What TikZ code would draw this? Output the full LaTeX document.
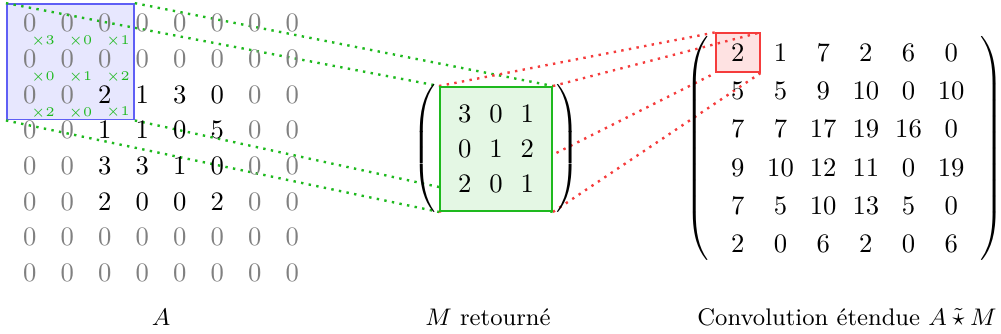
\documentclass[tikz,border=0pt]{standalone}
\usepackage{amsmath,amssymb}
\usetikzlibrary{matrix,fit,backgrounds,positioning}
\definecolor{winblue}{RGB}{95,95,245}
\definecolor{kergreen}{RGB}{30,185,30}
\definecolor{outred}{RGB}{245,60,60}
\newcommand{\gz}{\textcolor{gray}{0}}
\tikzset{
    % cells of the padded matrix, the kernel and the result
    acell/.style={minimum width=14.06pt,minimum height=13.3pt,inner sep=0pt},
    mcell/.style={minimum width=11.7pt,minimum height=13.1pt,inner sep=0pt},
    rcell/.style={minimum width=16pt,minimum height=14.25pt,inner sep=0pt},
    % small kernel weights under the window
    mult/.style={font=\tiny,text=kergreen,inner sep=0pt},
    winbox/.style={draw=winblue,fill=winblue!15,line width=0.6pt},
    outbox/.style={draw=outred,fill=outred!15,line width=0.6pt},
    caption/.style={font=\fontsize{9pt}{11pt}\selectfont},
}

\begin{document}
\begin{tikzpicture}[x=0.375pt,y=-0.375pt,
   gline/.style={kergreen,dotted,line width=0.9pt},
   rline/.style={outred,dotted,line width=0.9pt}]
  \useasboundingbox (0,0) rectangle (1001,334);
  \matrix (A) at (161,148) [matrix of nodes,nodes={acell},column sep=0pt,row sep=0pt]
  {
    \gz & \gz & \gz & \gz & \gz & \gz & \gz & \gz \\
    \gz & \gz & \gz & \gz & \gz & \gz & \gz & \gz \\
    \gz & \gz & 2 & 1 & 3 & 0 & \gz & \gz \\
    \gz & \gz & 1 & 1 & 0 & 5 & \gz & \gz \\
    \gz & \gz & 3 & 3 & 1 & 0 & \gz & \gz \\
    \gz & \gz & 2 & 0 & 0 & 2 & \gz & \gz \\
    \gz & \gz & \gz & \gz & \gz & \gz & \gz & \gz \\
    \gz & \gz & \gz & \gz & \gz & \gz & \gz & \gz \\
  };
  \foreach \i/\j/\k in {1/1/3,1/2/0,1/3/1,2/1/0,2/2/1,2/3/2,3/1/2,3/2/0,3/3/1}
    \node[mult] (x\i\j) at ([xshift=-2.27pt]A-\i-\j.south east) {$\times\k$};

  \matrix (M) at (496,149) [matrix of nodes,nodes={mcell},column sep=0pt,row sep=0pt,
     draw=kergreen,fill=kergreen!12,line width=0.6pt,inner sep=3.5pt,
     left delimiter=(,right delimiter=)]
  {
    3 & 0 & 1 \\
    0 & 1 & 2 \\
    2 & 0 & 1 \\
  };

  \matrix (R) at (844.5,148.3) [matrix of nodes,nodes={rcell},column sep=0pt,row sep=0pt,
     inner xsep=1.6pt,inner ysep=1pt,left delimiter=(,right delimiter=)]
  {
    2 & 1 & 7 & 2 & 6 & 0 \\
    5 & 5 & 9 & 10 & 0 & 10 \\
    7 & 7 & 17 & 19 & 16 & 0 \\
    9 & 10 & 12 & 11 & 0 & 19 \\
    7 & 5 & 10 & 13 & 5 & 0 \\
    2 & 0 & 6 & 2 & 0 & 6 \\
  };

  \begin{scope}[on background layer]
    \node[winbox,fit=(A-1-1)(A-3-3)(x33),inner xsep=1.4pt,inner ysep=0.4pt] (win) {};
    \node[outbox,fit=(R-1-1),inner sep=0pt] (res) {};
    \draw[gline] (win.north west) -- (M.north west);
    \draw[gline] (win.north east) -- (M.north east);
    \draw[gline] (win.south west) -- (M.south west);
    \draw[gline] (win.south east) -- (M.south east);
    \draw[rline] (M.north west) -- (res.north west);
    \draw[rline] (M.north east) -- (res.north east);
    \draw[rline] (M.south west) -- (res.south west);
    \draw[rline] (M.south east) -- (res.south east);
  \end{scope}

  \node[caption] (labA) at (161,317) {$A$};
  \node[caption] (labM) at (488,317) {$M$ retourné};
  \node[caption] (labR) at (847,317) {Convolution étendue $A\mathbin{\tilde{\star}}M$};
\end{tikzpicture}
\end{document}
